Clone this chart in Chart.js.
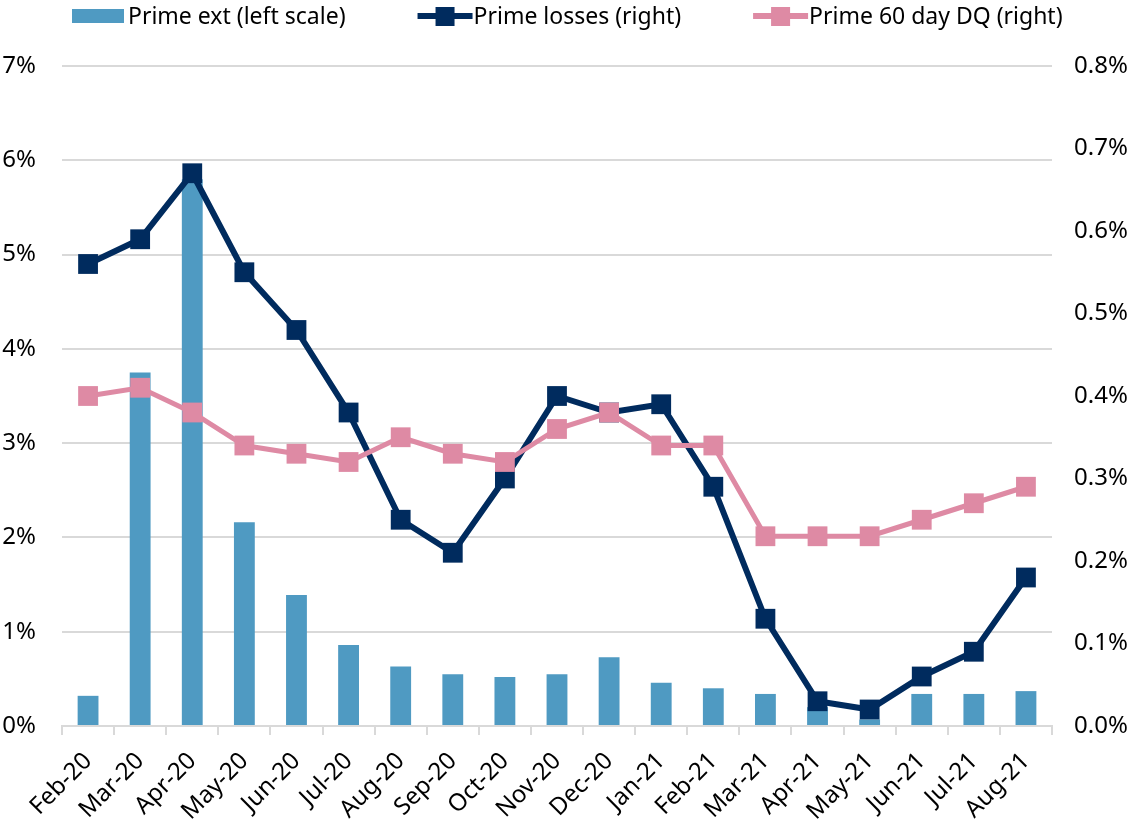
<!DOCTYPE html>
<html>
<head>
<meta charset="utf-8">
<script src="https://cdn.jsdelivr.net/npm/chart.js@4.4.1/dist/chart.umd.min.js"></script>
<style>
  body { margin: 0; background: #fff; }
  #grafico { display: block; }
</style>
</head>
<body>
<canvas id="grafico" width="1132" height="821"></canvas>
<script>
var etiquetas = ["Feb-20","Mar-20","Apr-20","May-20","Jun-20","Jul-20","Aug-20","Sep-20","Oct-20","Nov-20",
                 "Dec-20","Jan-21","Feb-21","Mar-21","Apr-21","May-21","Jun-21","Jul-21","Aug-21"];
// left scale, %
var primeExt = [0.32,3.75,5.8,2.16,1.39,0.86,0.63,0.55,0.52,0.55,0.73,0.46,0.40,0.34,0.2,0.07,0.34,0.34,0.37];
// right scale, %
var primeLosses = [0.56,0.59,0.67,0.55,0.48,0.38,0.25,0.21,0.30,0.40,0.38,0.39,0.29,0.13,0.03,0.02,0.06,0.09,0.18];
var primeDQ = [0.40,0.41,0.38,0.34,0.33,0.32,0.35,0.33,0.32,0.36,0.38,0.34,0.34,0.23,0.23,0.23,0.25,0.27,0.29];
var ticksIzq = [0,1,2,3,4,5,6,7];
var ticksDer = [0,0.1,0.2,0.3,0.4,0.5,0.6,0.7,0.8];

var azul = "#4f9ac2";
var marino = "#002b5e";
var rosa = "#de8aa4";
var fuente = "'Noto Sans', 'DejaVu Sans', sans-serif";

function fijarAncho(w){
    return function(scale){ scale.width = w; };
}

// legend drawn by hand so it sits like the original one
var leyenda = {
    id: "leyenda",
    afterDraw: function(chart){
        var ctx = chart.ctx;
        var ds = chart.data.datasets;
        var orden = [2, 1, 0];
        var x = 72, yc = 16;
        ctx.save();
        ctx.font = "23px " + fuente;
        ctx.textBaseline = "middle";
        orden.forEach(function(i){
            var d = ds[i];
            ctx.fillStyle = d.backgroundColor;
            if(d.type == "bar"){
                ctx.fillRect(x, yc - 7, 52, 14);
            } else {
                ctx.fillRect(x, yc - 3, 55, 6);
                ctx.fillRect(x + 18, yc - 9, 19, 19);
            }
            x += 56;
            ctx.fillStyle = "#000";
            ctx.fillText(d.label, x, yc + 1);
            x += ctx.measureText(d.label).width + 72;
        });
        ctx.restore();
    }
};

var grafico = new Chart(document.getElementById("grafico"), {
    data: {
        labels: etiquetas,
        datasets: [
            {
                type: "line",
                label: "Prime 60 day DQ (right)",
                data: primeDQ,
                yAxisID: "der",
                borderColor: rosa,
                backgroundColor: rosa,
                borderWidth: 5,
                pointStyle: "rect",
                pointRadius: 14,
                pointBorderWidth: 0,
                order: 1
            },
            {
                type: "line",
                label: "Prime losses (right)",
                data: primeLosses,
                yAxisID: "der",
                borderColor: marino,
                backgroundColor: marino,
                borderWidth: 6,
                pointStyle: "rect",
                pointRadius: 14,
                pointBorderWidth: 0,
                order: 2
            },
            {
                type: "bar",
                label: "Prime ext (left scale)",
                data: primeExt,
                yAxisID: "izq",
                backgroundColor: azul,
                barPercentage: 0.8,
                categoryPercentage: 0.5,
                order: 3
            }
        ]
    },
    plugins: [leyenda],
    options: {
        responsive: false,
        animation: false,
        layout: { padding: { top: 66, left: 0, right: 0, bottom: 0 } },
        plugins: {
            tooltip: { enabled: false },
            legend: { display: false }
        },
        scales: {
            x: {
                afterFit: function(s){ s.height = 95; },
                grid: {
                    display: true,
                    drawOnChartArea: false,
                    offset: true,
                    tickLength: 9,
                    color: "#d9d9d9",
                    lineWidth: 2
                },
                border: { color: "#d9d9d9", width: 2 },
                ticks: {
                    font: { family: fuente, size: 24 },
                    color: "#000",
                    maxRotation: 45,
                    minRotation: 45,
                    autoSkip: false,
                    padding: 12
                }
            },
            izq: {
                position: "left",
                min: 0,
                max: 7,
                afterFit: fijarAncho(62),
                afterBuildTicks: function(s){ s.ticks = ticksIzq.map(function(v){ return {value: v}; }); },
                grid: { color: "#d9d9d9", lineWidth: 2, drawTicks: false },
                border: { display: false },
                ticks: {
                    font: { family: fuente, size: 24 },
                    color: "#000",
                    padding: 26,
                    callback: function(v){ return v + "%"; }
                }
            },
            der: {
                position: "right",
                min: 0,
                max: 0.8,
                afterFit: fijarAncho(80),
                afterBuildTicks: function(s){ s.ticks = ticksDer.map(function(v){ return {value: v}; }); },
                grid: { display: false },
                border: { display: false },
                ticks: {
                    font: { family: fuente, size: 24 },
                    color: "#000",
                    padding: 14,
                    callback: function(v){ return v.toFixed(1) + "%"; }
                }
            }
        }
    }
});
</script>
</body>
</html>
